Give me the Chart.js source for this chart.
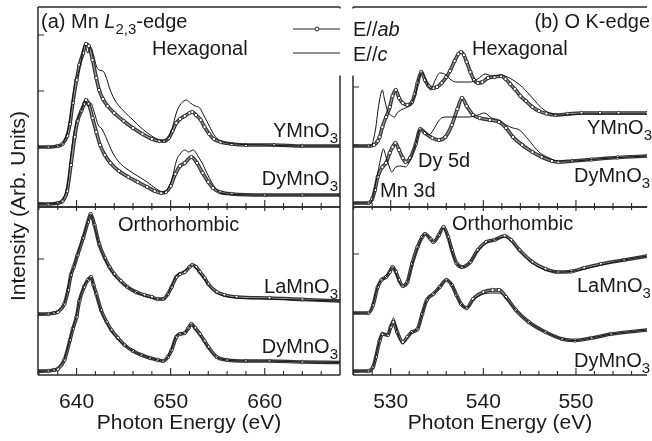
<!DOCTYPE html>
<html>
<head>
<meta charset="utf-8">
<title>Mn L2,3 and O K edge XAS</title>
<script src="https://cdn.jsdelivr.net/npm/chart.js@4.4.1/dist/chart.umd.min.js"></script>
<style>
    html, body { margin: 0; padding: 0; background: #fff; overflow: hidden; }
    #wrap { position: relative; width: 652px; height: 441px; }
    #wrap canvas { position: absolute; left: 0; top: 0; }
</style>
</head>
<body>
<div id="wrap">
    <canvas id="mnHex" width="652" height="441"></canvas>
    <canvas id="mnOrt" width="652" height="441"></canvas>
    <canvas id="oOrt" width="652" height="441"></canvas>
    <canvas id="oHex" width="652" height="441"></canvas>
</div>
<script>
// ---- data: [photon energy (eV), intensity (arb. units, offset as plotted)] ----

// (a) Mn L2,3-edge, hexagonal
const mnHexYab = [[635.9,60],[637,60],[638,61],[638.5,63],[639,71],[639.3,83],[639.6,104],[640,127],[640.3,142],[640.7,154],[641,163],[641.3,161],[641.7,147],[642.1,129],[642.4,117],[642.8,108],[643.3,101],[644,94],[645,86],[646,79],[647,73],[648,68],[648.8,66],[649.3,66],[649.8,69],[650.2,76],[650.6,84],[651,88],[651.5,91],[652,94],[652.3,95],[652.7,92],[653.2,87],[653.6,80],[654.1,73],[654.6,68],[655.3,65],[656.5,63],[658,62],[661,62],[664,61],[668,61]];
const mnHexYc = [[635.9,60],[637,60],[638,61],[638.6,64],[639,74],[639.3,89],[639.6,110],[639.85,127],[640.1,131],[640.4,142],[640.85,162],[641.2,154],[641.5,160],[641.8,152],[642.1,141],[642.4,137],[642.8,136],[643.1,131],[643.5,119],[644,108],[645,96],[646,87],[647,78],[648,71],[648.8,67],[649.3,66],[649.8,70],[650.2,80],[650.6,94],[651,102],[651.4,106],[651.7,107],[652.1,104],[652.6,101],[653.1,99],[653.5,92],[654,83],[654.5,74],[655,68],[655.6,65],[657,63],[660,62],[664,61],[668,61]];
const mnHexDab = [[635.9,3],[637,3],[638,4],[638.5,6],[639,16],[639.4,42],[639.8,70],[640.1,86],[640.5,96],[640.8,103],[641,107],[641.3,103],[641.7,89],[642.1,75],[642.5,62],[643,52],[643.6,44],[644.5,36],[645.5,30],[646.5,25],[647.5,20],[648.3,16],[649,14],[649.5,15],[650,21],[650.5,33],[651,41],[651.5,44],[652.2,50],[652.8,44],[653.4,34],[654,25],[654.5,19],[655.2,15],[656.5,13],[660,12],[664,12],[668,12]];
const mnHexDc = [[635.9,3],[638,4],[638.5,7],[639,21],[639.4,53],[639.8,79],[640.2,90],[640.6,99],[640.9,106],[641.2,101],[641.5,104],[641.9,94],[642.3,82],[642.7,78],[643.2,68],[643.8,55],[644.5,45],[645.5,37],[646.5,31],[647.5,25],[648.5,18],[649.2,15],[649.7,18],[650.2,30],[650.6,46],[651,53],[651.5,57],[651.9,55],[652.4,57],[652.9,51],[653.4,43],[653.9,33],[654.4,24],[655,16],[656,13],[660,12],[668,12]];

// (a) Mn L2,3-edge, orthorhombic
const mnOrtLab = [[635.9,61],[637,61],[637.6,62],[638,63],[638.7,71],[639.1,85],[639.4,100],[639.7,108],[640.1,120],[640.7,137],[641.2,153],[641.5,161],[641.9,150],[642.4,131],[643,117],[643.5,108],[644,101],[644.7,94],[645.4,88],[646.3,83],[647.2,80],[648,78],[648.6,76],[649.2,76],[649.7,81],[650.1,88],[650.6,98],[651,101],[651.5,103],[652,108],[652.3,110],[652.7,108],[653.1,103],[653.6,97],[654,91],[654.9,83],[655.7,80],[657,78],[660.5,77],[664,75.5],[668,74]];
const mnOrtLc = [[635.9,61],[637,61],[637.6,62],[638,64],[638.7,72],[639.1,87],[639.4,101],[639.7,108],[640.1,121],[640.7,138],[641.2,154],[641.5,161],[641.9,149],[642.4,130],[643,116],[643.5,107],[644,100],[644.7,93],[645.4,88],[646.3,83],[647.2,79],[648,77],[648.6,76],[649.2,76],[649.7,81],[650.1,89],[650.6,99],[651,102],[651.5,104],[652,108],[652.3,110],[652.7,107],[653.1,102],[653.6,96],[654,90],[654.9,82],[655.7,79],[657,77],[660.5,76],[664,75],[668,74]];
const mnOrtDab = [[635.9,4],[637,4],[637.6,5],[638,6],[638.7,15],[639.3,35],[639.6,46],[640,58],[640.3,74],[640.8,88],[641.2,95],[641.55,98],[641.8,90],[642.1,81],[642.6,65],[643.2,53],[643.7,45],[644.4,37],[645.1,30],[646,24],[646.9,20],[647.8,17],[648.6,15],[649.2,14],[649.7,18],[650.1,25],[650.6,38],[651,41],[651.5,42],[651.9,47],[652.2,51],[652.6,47],[653.1,41],[653.6,34],[654,28],[654.9,18],[656,15],[658,14],[660.5,14],[664,13],[668,12.5]];
const mnOrtDc = [[635.9,4],[637,4],[637.6,5],[638,7],[638.7,16],[639.3,36],[639.6,47],[640,60],[640.3,75],[640.8,89],[641.2,95],[641.55,98],[641.8,89],[642.1,80],[642.6,64],[643.2,52],[643.7,44],[644.4,36],[645.1,30],[646,24],[646.9,20],[647.8,17],[648.6,15],[649.2,14],[649.7,18],[650.1,26],[650.6,39],[651,41],[651.5,42],[651.9,47],[652.2,51],[652.6,46],[653.1,40],[653.6,33],[654,27],[654.9,18],[656,15],[658,14],[660.5,14],[664,13],[668,12.5]];

// (b) O K-edge, hexagonal
const oHexYab = [[525.9,61],[527.6,61],[528.2,62],[528.6,66],[528.8,70],[529.1,80],[529.5,90],[529.9,100],[530.2,111],[530.55,117],[530.9,109],[531.3,104],[531.8,102],[532.3,105],[532.6,113],[532.9,124],[533.3,135],[533.7,127],[534.1,121],[534.6,119],[535,120],[535.5,124],[536,130],[536.4,136],[536.9,146],[537.3,153],[537.6,155],[537.9,152],[538.2,145],[538.6,135],[539,127],[539.4,124],[539.9,125],[540.5,129],[541.2,130],[541.9,131],[542.4,128],[542.9,123],[543.4,118],[544,111],[544.6,106],[545.3,100],[546,96],[546.8,93.5],[547.8,92],[549.1,93],[550.6,94],[552.6,94],[554.6,94],[557.7,94]];
const oHexYc = [[525.9,61],[527.6,61],[528,63],[528.2,70],[528.4,80],[528.6,95],[528.8,107],[529.1,117],[529.3,109],[529.7,95],[530,92],[530.4,90],[530.7,94],[531.1,97],[531.6,99],[532.1,102],[532.4,107],[532.7,114],[533,127],[533.35,135],[533.8,127],[534.3,117],[534.8,127],[535.3,134],[535.8,133],[536.4,128],[537,125],[537.8,125],[538.6,125],[539.4,128],[540.2,133],[541,131],[542,132],[542.6,130],[543.2,127],[544.2,120],[545.3,109],[546.3,99],[547.4,93],[548.6,92],[550.6,93],[553.6,93],[557.7,93]];
const oHexDab = [[525.9,4],[527.6,4],[528,8],[528.3,17],[528.6,30],[529.1,40],[529.5,44],[529.9,54],[530.2,60],[530.5,64],[530.9,57],[531.3,49],[531.6,45],[532.1,49],[532.7,63],[533.2,78],[533.7,74],[534.5,69],[535.2,67],[535.9,70],[536.6,82],[537.2,98],[537.7,109],[538.2,101],[538.9,92],[539.6,89],[540.7,87],[541.7,85],[542.45,79],[543.2,70],[544.2,62],[545.3,55],[546.3,50],[547.4,46],[548.1,45],[549.6,46],[551.7,47.5],[554.5,49.5],[557.7,51]];
const oHexDc = [[525.9,4],[527.6,4],[528,7],[528.3,20],[528.6,34],[529,52],[529.2,58],[529.5,50],[529.9,39],[530.1,35],[530.55,40],[531.1,41],[531.6,40],[532.15,48],[532.7,63],[533.2,78],[533.7,75],[534.1,72],[534.6,77],[535.1,85],[535.5,89],[536.1,90],[537.1,90],[538.4,90],[539.4,92],[540.1,94],[540.9,89],[541.7,87],[542.45,82],[543.2,79],[543.9,77],[544.9,67],[546,55],[547.1,49],[548.1,46],[549.6,46],[551.7,47.5],[554.5,49.5],[557.7,51]];

// (b) O K-edge, orthorhombic
const oOrtLab = [[525.9,62],[527.6,62],[528.1,70],[528.6,88],[529,95],[529.5,98],[529.9,103],[530.2,108],[530.56,103],[530.9,95],[531.3,89],[531.8,93],[532.3,111],[532.9,128],[533.4,138],[533.7,141],[534.3,136],[534.6,133],[535.2,140],[535.7,148],[536.2,138],[536.6,125],[537.1,112],[537.7,108],[538.6,113],[539.4,125],[540.3,133],[541.2,135],[542.3,139],[543,135],[543.9,125],[545.3,113],[546.7,106],[548.1,103],[549.5,103.5],[550.9,107],[552.7,111],[555.2,115],[557.7,119]];
const oOrtLc = [[525.9,62],[527.6,62],[528.1,71],[528.6,89],[529,95],[529.5,98],[529.9,104],[530.2,108],[530.56,102],[530.9,94],[531.3,89],[531.8,93],[532.3,110],[532.9,127],[533.4,138],[533.7,141],[534.3,136],[534.6,133],[535.2,140],[535.7,147],[536.2,137],[536.6,124],[537.1,112],[537.7,108],[538.6,113],[539.4,124],[540.3,132],[541.2,135],[542.3,138],[543,134],[543.9,124],[545.3,112],[546.7,105],[548.1,103],[549.5,103.5],[550.9,106],[552.7,110],[555.2,115],[557.7,119]];
const oOrtDab = [[525.9,4],[527.6,4],[528.1,8],[528.4,18],[528.8,34],[529.1,41],[529.7,40],[530,48],[530.3,53],[530.7,43],[531.3,33],[531.8,38],[532.3,43],[532.9,46],[533.4,61],[533.9,75],[534.6,81],[535.3,88],[536,95],[536.6,90],[537.1,80],[537.6,71],[538.2,67],[538.9,76],[540,83],[541,85],[541.7,85],[542.45,78],[543.5,65],[544.9,53],[546.7,43],[548.5,36],[549.9,34.5],[551.7,37],[553.8,41],[557.7,45]];
const oOrtDc = [[525.9,4],[527.6,4],[528.1,8],[528.4,19],[528.8,35],[529.1,42],[529.7,40],[530,50],[530.3,57],[530.7,43],[531.3,31],[531.8,37],[532.3,43],[532.9,46],[533.4,61],[533.9,75],[534.6,81],[535.3,88],[536,95],[536.6,90],[537.1,80],[537.6,71],[538.2,67],[538.9,75],[540,81],[541,82],[541.7,82],[542.45,77],[543.5,65],[544.9,53],[546.7,43],[548.5,36],[549.9,34.5],[551.7,37],[553.8,41],[557.7,45]];

// ---- axes ----
const mnRange = [635.9, 668];
const oRange = [525.93, 557.68];
const mnMajor = [640, 650, 660];
const mnMinor = [636, 638, 642, 644, 646, 648, 652, 654, 656, 658, 662, 664, 666];
const oMajor = [530, 540, 550];
const oMinor = [526, 528, 532, 534, 536, 538, 542, 544, 546, 548, 552, 554, 556];
const topRange = [0, 200];
const botRange = [0, 168];
const mnHexTicks = [4, 60, 116, 172];
const oHexTicks = [4, 62, 120, 178];
const mnOrtTicks = [3, 60, 116];
const oOrtTicks = [3, 62, 121];

const FAM = '"Liberation Sans", Arial, Helvetica, sans-serif';
const INK = '#1a1a1a';

function xy(arr) {
    return arr.map(p => ({ x: p[0], y: p[1] }));
}

// rich text: parts = [[text, style]] with style '', 'i' or 'sub'
function drawRich(ctx, parts, x, y, align, size) {
    const fontOf = s => s === 'i' ? `italic ${size}px ${FAM}`
        : s === 'sub' ? `${Math.round(size * 0.75)}px ${FAM}` : `${size}px ${FAM}`;
    let w = 0;
    parts.forEach(([t, s]) => { ctx.font = fontOf(s); w += ctx.measureText(t).width; });
    let cx = align === 'right' ? x - w : align === 'center' ? x - w / 2 : x;
    ctx.textAlign = 'left';
    ctx.textBaseline = 'alphabetic';
    parts.forEach(([t, s]) => {
        ctx.font = fontOf(s);
        ctx.fillText(t, cx, s === 'sub' ? y + size * 0.3 : y);
        cx += ctx.measureText(t).width;
    });
}

// frame, inward ticks, tick labels and annotations
const framePlugin = {
    id: 'frame',
    afterDraw(chart, args, o) {
        const ctx = chart.ctx;
        const { left, top, right, bottom } = chart.chartArea;
        const xs = chart.scales.x, ys = chart.scales.y;
        ctx.save();
        ctx.strokeStyle = '#2a2a2a';
        ctx.lineWidth = 1.5;
        ctx.beginPath();
        ctx.moveTo(left, top); ctx.lineTo(right, top);
        ctx.moveTo(left, bottom); ctx.lineTo(right, bottom);
        ctx.moveTo(left, top); ctx.lineTo(left, bottom);
        if (o.rightEdge) { ctx.moveTo(right, top); ctx.lineTo(right, bottom); }
        ctx.stroke();

        ctx.lineWidth = 1.1;
        ctx.beginPath();
        o.minor.forEach(v => {
            const px = xs.getPixelForValue(v);
            ctx.moveTo(px, bottom); ctx.lineTo(px, bottom - 4);
            if (o.topTicks) { ctx.moveTo(px, top); ctx.lineTo(px, top + 3); }
        });
        o.major.forEach(v => {
            const px = xs.getPixelForValue(v);
            ctx.moveTo(px, bottom); ctx.lineTo(px, bottom - 7);
            if (o.topTicks) { ctx.moveTo(px, top); ctx.lineTo(px, top + 4); }
        });
        o.yTicks.forEach(v => {
            const py = ys.getPixelForValue(v);
            ctx.moveTo(left, py); ctx.lineTo(left + 6, py);
        });
        ctx.stroke();

        ctx.fillStyle = INK;
        if (o.labels) {
            ctx.font = `21px ${FAM}`;
            ctx.textAlign = 'center';
            ctx.textBaseline = 'alphabetic';
            o.major.forEach(v => ctx.fillText(String(v), xs.getPixelForValue(v), bottom + 33));
            ctx.fillText('Photon Energy (eV)', (left + right) / 2, bottom + 54);
        }
        (o.texts || []).forEach(t => drawRich(ctx, t.parts, t.x, t.y, t.align || 'left', t.size || 20));

        if (o.yTitle) {
            ctx.save();
            ctx.translate(19, 206);
            ctx.rotate(-Math.PI / 2);
            ctx.font = `21px ${FAM}`;
            ctx.textAlign = 'center';
            ctx.textBaseline = 'middle';
            ctx.fillText('Intensity (Arb. Units)', 0, 0);
            ctx.restore();
        }

        if (o.legend) {
            ctx.fillStyle = '#fff';
            ctx.fillRect(286, 8.5, 110, 67);
            ctx.strokeStyle = '#222';
            ctx.lineWidth = 1;
            ctx.beginPath();
            ctx.moveTo(293, 29); ctx.lineTo(340, 29);
            ctx.moveTo(293, 53); ctx.lineTo(340, 53);
            ctx.stroke();
            ctx.beginPath();
            ctx.arc(317, 29, 2, 0, Math.PI * 2);
            ctx.fillStyle = '#fff';
            ctx.fill();
            ctx.stroke();
            ctx.fillStyle = INK;
            drawRich(ctx, [['E//', ''], ['ab', 'i']], 353, 36, 'left', 20);
            drawRich(ctx, [['E//', ''], ['c', 'i']], 353, 61, 'left', 20);
        }
        ctx.restore();
    }
};

// E//ab: dense open circles read as a dark band with a lighter core
function abBand(data) {
    return { data: xy(data), borderColor: '#333', borderWidth: 3.6, pointRadius: 0 };
}

function abCore(data) {
    return {
        data: xy(data),
        borderColor: '#9a9a9a',
        borderWidth: 1.2,
        pointRadius: 1.7,
        pointBorderWidth: 0.9,
        pointBackgroundColor: '#fff',
        pointBorderColor: '#2a2a2a'
    };
}

function cLine(data) {
    return { data: xy(data), borderColor: '#111', borderWidth: 1, pointRadius: 0 };
}

function makePanel(id, xRange, yRange, pad, series, frame) {
    const canvas = document.getElementById(id);
    if (!canvas) {
        console.error('canvas not found: ' + id);
        return null;
    }
    return new Chart(canvas.getContext('2d'), {
        type: 'line',
        data: {
            // lower index is drawn last, so the E//c lines stay on top
            datasets: [
                cLine(series[1]), cLine(series[3]),
                abCore(series[0]), abCore(series[2]),
                abBand(series[0]), abBand(series[2])
            ]
        },
        options: {
            responsive: false,
            animation: false,
            events: [],
            layout: { padding: pad },
            elements: { line: { cubicInterpolationMode: 'monotone' } },
            scales: {
                x: { type: 'linear', display: false, min: xRange[0], max: xRange[1] },
                y: { type: 'linear', display: false, min: yRange[0], max: yRange[1] }
            },
            plugins: { legend: { display: false }, tooltip: { enabled: false }, frame: frame }
        },
        plugins: [framePlugin]
    });
}

const sub3 = name => [[name, ''], ['3', 'sub']];

makePanel('mnHex', mnRange, topRange, { left: 38, top: 7, right: 312, bottom: 234 },
    [mnHexYab, mnHexYc, mnHexDab, mnHexDc], {
        major: mnMajor, minor: mnMinor, yTicks: mnHexTicks, rightEdge: true, yTitle: true,
        texts: [
            { parts: [['(a) Mn ', ''], ['L', 'i'], ['2,3', 'sub'], ['-edge', '']], x: 41, y: 28 },
            { parts: [['Hexagonal', '']], x: 152, y: 55 },
            { parts: sub3('YMnO'), x: 338, y: 137, align: 'right' },
            { parts: sub3('DyMnO'), x: 338, y: 185, align: 'right' }
        ]
    });

makePanel('mnOrt', mnRange, botRange, { left: 38, top: 207, right: 312, bottom: 66 },
    [mnOrtLab, mnOrtLc, mnOrtDab, mnOrtDc], {
        major: mnMajor, minor: mnMinor, yTicks: mnOrtTicks, rightEdge: true, topTicks: true, labels: true,
        texts: [
            { parts: [['Orthorhombic', '']], x: 118, y: 231 },
            { parts: sub3('LaMnO'), x: 338, y: 293, align: 'right' },
            { parts: sub3('DyMnO'), x: 338, y: 353, align: 'right' }
        ]
    });

makePanel('oOrt', oRange, botRange, { left: 353, top: 207, right: 0, bottom: 66 },
    [oOrtLab, oOrtLc, oOrtDab, oOrtDc], {
        major: oMajor, minor: oMinor, yTicks: oOrtTicks, topTicks: true, labels: true,
        texts: [
            { parts: [['Orthorhombic', '']], x: 452, y: 230 },
            { parts: sub3('LaMnO'), x: 577, y: 292 },
            { parts: sub3('DyMnO'), x: 574, y: 367 }
        ]
    });

makePanel('oHex', oRange, topRange, { left: 353, top: 7, right: 0, bottom: 234 },
    [oHexYab, oHexYc, oHexDab, oHexDc], {
        major: oMajor, minor: oMinor, yTicks: oHexTicks, legend: true,
        texts: [
            { parts: [['(b) O K-edge', '']], x: 650, y: 28, align: 'right' },
            { parts: [['Hexagonal', '']], x: 472, y: 55 },
            { parts: sub3('YMnO'), x: 587, y: 134 },
            { parts: sub3('DyMnO'), x: 574, y: 182 },
            { parts: [['Dy 5d', '']], x: 418, y: 167 },
            { parts: [['Mn 3d', '']], x: 380, y: 197 }
        ]
    });
</script>
</body>
</html>
